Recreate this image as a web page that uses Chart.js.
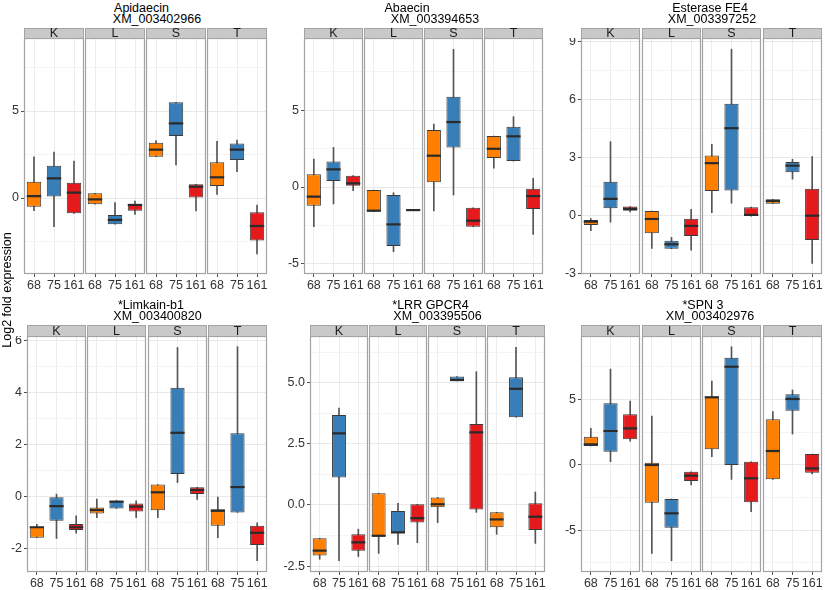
<!DOCTYPE html>
<html>
<head>
<meta charset="utf-8">
<script src="https://cdn.jsdelivr.net/npm/chart.js@4.4.1/dist/chart.umd.min.js"></script>
<style>
  body { margin: 0; background: #fff; font-family: "Liberation Sans", Arial, sans-serif; }
  #figure { position: relative; width: 825px; height: 590px; overflow: hidden; background: #fff; }
  #figure canvas { position: absolute; }
  .title, .strip, .ylab { position: absolute; font-size: 12.5px; white-space: nowrap; color: #000; }
  .title { transform: translateX(-50%); line-height: 13px; }
  .strip { box-sizing: border-box; background: #c9c9c9; border: 1px solid #a3a3a3; text-align: center; color: #1a1a1a; }
  .ylab { transform: translate(-50%, -50%) rotate(-90deg); line-height: 14px; }
</style>
</head>
<body>
<div id="figure"></div>
<script>
// Data
const groups = ['68', '75', '161'];
const facets = ['K', 'L', 'S', 'T'];
const boxColors = ['#FF7F00', '#377EB8', '#E41A1C'];

// each box: [lower whisker, q1, median, q3, upper whisker]
// order: K 68/75/161, L 68/75/161, S 68/75/161, T 68/75/161
const apidaecin = [
    [-0.73, -0.5, 0.11, 0.94, 2.37], [-1.65, 0.08, 1.13, 1.86, 2.64], [-0.88, -0.88, 0.31, 0.88, 2.13],
    [-0.36, -0.36, -0.08, 0.27, 0.27], [-1.51, -1.51, -1.26, -0.98, -0.27], [-0.94, -0.73, -0.4, -0.34, -0.17],
    [2.37, 2.37, 2.78, 3.18, 3.3], [1.9, 3.56, 4.29, 5.5, 5.5], [-0.75, 0, 0.65, 0.79, 0.79],
    [0.21, 0.69, 1.19, 2.05, 3.26], [1.51, 2.18, 2.78, 3.14, 3.33], [-3.22, -2.45, -1.61, -0.82, -0.4]
];
const abaecin = [
    [-2.58, -1.22, -0.63, 0.83, 1.82], [-1.1, 0.39, 1.15, 1.67, 2.58], [-0.24, 0.09, 0.24, 0.74, 0.74],
    [-1.6, -1.6, -1.54, -0.2, -0.2], [-4.21, -3.84, -2.43, -0.52, -0.37], [-1.5, -1.5, -1.5, -1.5, -1.5],
    [-1.56, 0.31, 2.04, 3.71, 4.1], [-0.52, 2.58, 4.23, 5.88, 8.96], [-2.58, -2.58, -2.19, -1.35, -1.35],
    [1.22, 1.89, 2.49, 3.32, 3.32], [1.69, 1.69, 3.3, 3.93, 4.58], [-3.08, -1.43, -0.59, -0.11, 0.57]
];
const esterase = [
    [-0.78, -0.48, -0.31, -0.22, -0.15], [-0.34, 0.38, 0.87, 1.76, 3.83], [0.2, 0.26, 0.35, 0.47, 0.47],
    [-1.69, -0.91, -0.17, 0.24, 0.24], [-1.71, -1.71, -1.48, -1.3, -1.12], [-1.78, -1.05, -0.53, -0.16, 0.33],
    [0.16, 1.28, 2.72, 3.11, 3.7], [0.64, 1.3, 4.53, 5.8, 8.62], [-0.02, -0.02, 0.04, 0.44, 0.44],
    [0.62, 0.62, 0.76, 0.85, 0.85], [1.89, 2.25, 2.59, 2.78, 2.92], [-2.47, -1.26, 0, 1.4, 3.06]
];
const limkain = [
    [-1.57, -1.57, -1.17, -1.15, -1.06], [-1.6, -0.92, -0.36, 0, 0.1], [-1.4, -1.28, -1.17, -1.05, -0.73],
    [-0.8, -0.64, -0.51, -0.41, -0.09], [-0.45, -0.45, -0.19, -0.15, -0.15], [-0.8, -0.57, -0.38, -0.26, -0.16],
    [-0.8, -0.52, 0.17, 0.47, 0.47], [0.54, 0.87, 2.45, 4.18, 5.72], [-0.1, 0.1, 0.26, 0.36, 0.36],
    [-1.57, -1.11, -0.54, -0.48, -0.01], [-0.6, -0.6, 0.37, 2.43, 5.75], [-2.45, -1.85, -1.38, -1.11, -1.0]
];
const lrrGpcr = [
    [-2.22, -2.07, -1.87, -1.36, -1.36], [-2.28, 1.12, 2.93, 3.68, 3.96], [-2.11, -1.87, -1.53, -1.2, -0.99],
    [-1.98, -1.27, -1.26, 0.48, 0.48], [-1.61, -1.16, -1.12, -0.25, 0.07], [-1.54, -0.72, -0.54, 0.03, 0.03],
    [-0.72, -0.09, 0.03, 0.31, 0.31], [5.07, 5.07, 5.11, 5.25, 5.25], [-0.3, -0.18, 2.97, 3.31, 5.45],
    [-1.2, -0.91, -0.59, -0.3, -0.3], [3.59, 3.59, 4.75, 5.22, 6.45], [-1.57, -1.02, -0.48, 0.07, 0.53]
];
const spn = [
    [1.43, 1.43, 1.56, 2.14, 2.78], [0.23, 0.99, 2.58, 4.7, 7.32], [1.81, 1.94, 2.78, 3.86, 4.87],
    [-6.78, -2.91, -0.02, 0.15, 3.72], [-7.35, -4.82, -3.72, -2.62, -2.62], [-1.55, -1.25, -0.84, -0.54, -0.54],
    [0.61, 1.18, 5.16, 5.2, 6.4], [-1.12, -0.02, 7.5, 8.19, 9.03], [-3.6, -2.88, -1.04, 0.23, 0.23],
    [-1.12, -1.12, 1.05, 3.47, 4.06], [2.35, 4.13, 5.03, 5.39, 5.72], [-0.71, -0.61, -0.28, 0.82, 0.82]
];

// y axis ranges and ticks
const apidaecinRange = [-4.37, 9.2];
const apidaecinTicks = [0, 5];
const apidaecinMinor = [-2.5, 2.5, 7.5];
const abaecinRange = [-5.66, 9.7];
const abaecinTicks = [-5, 0, 5];
const abaecinMinor = [-2.5, 2.5, 7.5];
const esteraseRange = [-3.02, 9.2];
const esteraseTicks = [-3, 0, 3, 6, 9];
const esteraseMinor = [-1.5, 1.5, 4.5, 7.5];
const limkainRange = [-2.885, 6.16];
const limkainTicks = [-2, 0, 2, 4, 6];
const limkainMinor = [-1, 1, 3, 5];
const lrrRange = [-2.74, 6.91];
const lrrTicks = [-2.5, 0, 2.5, 5];
const lrrTickLabels = ['-2.5', '0.0', '2.5', '5.0'];
const lrrMinor = [-1.25, 1.25, 3.75, 6.25];
const spnRange = [-8.21, 9.85];
const spnTicks = [-5, 0, 5];
const spnMinor = [-7.5, -2.5, 2.5, 7.5];

const panels = [
    { name: 'Apidaecin', gene: 'XM_003402966', boxes: apidaecin, range: apidaecinRange, ticks: apidaecinTicks, labels: apidaecinTicks.map(String), minor: apidaecinMinor },
    { name: 'Abaecin', gene: 'XM_003394653', boxes: abaecin, range: abaecinRange, ticks: abaecinTicks, labels: abaecinTicks.map(String), minor: abaecinMinor },
    { name: 'Esterase FE4', gene: 'XM_003397252', boxes: esterase, range: esteraseRange, ticks: esteraseTicks, labels: esteraseTicks.map(String), minor: esteraseMinor },
    { name: '*Limkain-b1', gene: 'XM_003400820', boxes: limkain, range: limkainRange, ticks: limkainTicks, labels: limkainTicks.map(String), minor: limkainMinor },
    { name: '*LRR GPCR4', gene: 'XM_003395506', boxes: lrrGpcr, range: lrrRange, ticks: lrrTicks, labels: lrrTickLabels, minor: lrrMinor },
    { name: '*SPN 3', gene: 'XM_003402976', boxes: spn, range: spnRange, ticks: spnTicks, labels: spnTicks.map(String), minor: spnMinor }
];

// Layout (pixels)
const rows = [
    { stripTop: 28, plotTop: 38, titleTop: 2.4 },
    { stripTop: 325, plotTop: 336, titleTop: 299.4 }
];
const layout = [
    { row: 0, left: 24, right: 267, c1: 141.5, c2: 157 },
    { row: 0, left: 304, right: 543, c1: 407, c2: 435 },
    { row: 0, left: 581, right: 822, c1: 710, c2: 712 },
    { row: 1, left: 27, right: 267, c1: 151, c2: 157.5 },
    { row: 1, left: 310, right: 545, c1: 430.5, c2: 437.5 },
    { row: 1, left: 581, right: 822, c1: 703, c2: 710 }
];
const PLOT_H = 236;
const XAXIS_H = 20;
const PAD = 4;
const tickFont = { family: '"Liberation Sans", Arial, sans-serif', size: 12.5 };

// grey frame round each panel
const panelFrame = {
    id: 'panelFrame',
    afterDraw(chart) {
        const { ctx, chartArea: a } = chart;
        ctx.save();
        ctx.strokeStyle = '#a3a3a3';
        ctx.lineWidth = 1.2;
        ctx.strokeRect(a.left + 0.5, a.top + 0.5, a.width - 1, a.height - 1);
        ctx.restore();
    }
};

document.addEventListener('DOMContentLoaded', () => {
    const fig = document.getElementById('figure');

    const addDiv = (cls, text, style) => {
        const d = document.createElement('div');
        d.className = cls;
        d.textContent = text;
        Object.assign(d.style, style);
        fig.appendChild(d);
        return d;
    };

    panels.forEach((p, pi) => {
        const lay = layout[pi];
        const row = rows[lay.row];
        const w = Math.round((lay.right - lay.left - 4.5) / 4);
        const step = (lay.right - lay.left - w) / 3;
        const allTicks = [...p.ticks, ...p.minor].sort((a, b) => a - b);
        const isMajor = v => p.ticks.includes(v);

        addDiv('title', p.name, { left: lay.c1 + 'px', top: row.titleTop + 'px' });
        addDiv('title', p.gene, { left: lay.c2 + 'px', top: (row.titleTop + 11) + 'px' });

        facets.forEach((facet, fi) => {
            const x0 = Math.round(lay.left + fi * step);
            const first = fi === 0;
            const axisW = first ? Math.min(30, x0) : 0;
            const padL = first ? 0 : PAD;
            const boxes = p.boxes.slice(fi * 3, fi * 3 + 3);

            const canvas = document.createElement('canvas');
            canvas.width = axisW + padL + w + PAD;
            canvas.height = PLOT_H + XAXIS_H;
            canvas.style.left = (x0 - axisW - padL) + 'px';
            canvas.style.top = row.plotTop + 'px';
            fig.appendChild(canvas);

            new Chart(canvas, {
                type: 'bar',
                data: {
                    labels: groups,
                    datasets: [
                        {
                            // median
                            type: 'line',
                            data: boxes.map(b => b[2]),
                            showLine: false,
                            pointStyle: 'line',
                            pointRadius: w / 3 * 0.72 / 2,
                            pointHoverRadius: w / 3 * 0.72 / 2,
                            pointBorderWidth: 2.2,
                            pointBorderColor: '#2b2b2b',
                            order: 1
                        },
                        {
                            // box
                            data: boxes.map(b => [b[1], b[3]]),
                            backgroundColor: boxColors,
                            borderColor: '#3a3a3a',
                            borderWidth: 1,
                            borderSkipped: false,
                            barPercentage: 0.72,
                            categoryPercentage: 1,
                            grouped: false,
                            order: 2
                        },
                        {
                            // whiskers
                            data: boxes.map(b => [b[0], b[4]]),
                            backgroundColor: '#555555',
                            barThickness: 1,
                            grouped: false,
                            order: 3
                        }
                    ]
                },
                options: {
                    responsive: false,
                    animation: false,
                    devicePixelRatio: 1,
                    events: [],
                    layout: { padding: { left: padL, right: PAD, top: 0, bottom: 0 }, autoPadding: false },
                    scales: {
                        x: {
                            offset: true,
                            grid: { offset: false, color: '#ececec', tickLength: 3, tickColor: '#4d4d4d' },
                            border: { display: false },
                            ticks: { font: tickFont, color: '#333', padding: 1, maxRotation: 0, autoSkip: false },
                            afterFit: s => {
                                s.height = XAXIS_H;
                                s.paddingLeft = 0;
                                s.paddingRight = 0;
                            }
                        },
                        y: {
                            min: p.range[0],
                            max: p.range[1],
                            afterBuildTicks: s => { s.ticks = allTicks.map(v => ({ value: v })); },
                            grid: {
                                color: ctx => isMajor(ctx.tick.value) ? '#e9e9e9' : '#f4f4f4',
                                tickLength: 3,
                                tickColor: ctx => isMajor(ctx.tick.value) ? '#4d4d4d' : 'rgba(0,0,0,0)',
                                drawTicks: first
                            },
                            border: { display: false },
                            ticks: {
                                display: first,
                                font: tickFont,
                                color: '#333',
                                padding: 2,
                                autoSkip: false,
                                callback: v => {
                                    const i = p.ticks.indexOf(v);
                                    return i < 0 ? '' : p.labels[i];
                                }
                            },
                            afterFit: s => {
                                s.width = axisW;
                                s.paddingTop = 0;
                                s.paddingBottom = 0;
                            }
                        }
                    },
                    plugins: {
                        legend: { display: false },
                        tooltip: { enabled: false }
                    }
                },
                plugins: [panelFrame]
            });

            addDiv('strip', facet, {
                left: x0 + 'px',
                top: row.stripTop + 'px',
                width: w + 'px',
                height: (row.plotTop - row.stripTop + 1) + 'px',
                lineHeight: (row.plotTop - row.stripTop - 1) + 'px'
            });
        });
    });

    addDiv('ylab', 'Log2 fold expression', { left: '7px', top: '290px' });
});
</script>
</body>
</html>
